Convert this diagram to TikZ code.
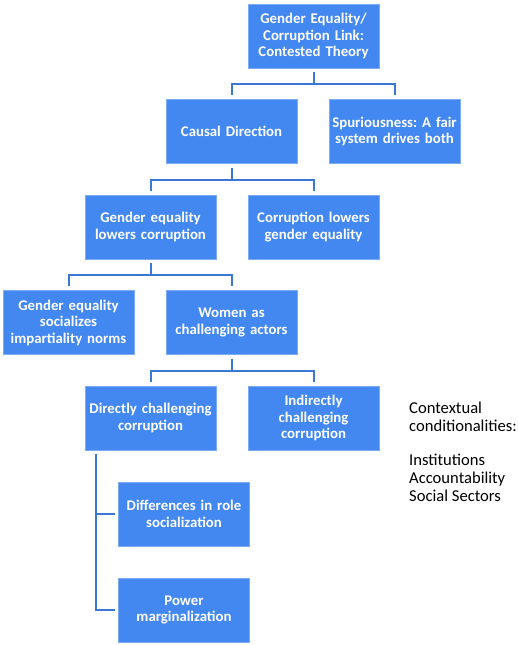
\documentclass[tikz,border=0pt]{standalone}
\usepackage{fontspec}
\setmainfont{Carlito}
\usetikzlibrary{positioning}
\definecolor{boxblue}{HTML}{4288F0}
\definecolor{lineblue}{HTML}{3A78D6}
\frenchspacing
\tikzset{
	box/.style={rectangle,fill=boxblue,draw=boxblue!70!white,line width=0.6pt,text=white,align=center,
		minimum width=131pt,minimum height=64pt,text width=127pt,inner sep=2pt,
		font=\fontsize{14.8}{16.5}\selectfont\bfseries},
	link/.style={draw=lineblue,line width=2pt},
	note/.style={align=left,anchor=north west,inner sep=0pt,font=\fontsize{16.6}{18.2}\selectfont}
}

\begin{document}
\begin{tikzpicture}[x=1pt,y=-1pt]
	\useasboundingbox (0,0) rectangle (518,645);
	
	\node[box] (root) at (313.5,36) {Gender Equality/\\Corruption Link:\\Contested Theory};
	
	\node[box] (causal) at (231.5,131.5) {Causal Direction};
	\node[box] (spur) at (394.5,131.5) {Spuriousness: A fair\\system drives both};
	
	\node[box] (gelow) at (150.5,227) {Gender equality\\lowers corruption};
	\node[box] (corrlow) at (313.5,227) {Corruption lowers\\gender equality};
	
	\node[box] (norms) at (68.5,322.5) {Gender equality\\socializes\\impartiality norms};
	\node[box] (women) at (231.5,322.5) {Women as\\challenging actors};
	
	\node[box] (direct) at (150.5,418) {Directly challenging\\corruption};
	\node[box] (indirect) at (313.5,418) {Indirectly\\challenging\\corruption};
	
	\node[box] (roles) at (184,514) {Differences in role\\socialization};
	\node[box] (power) at (184,610) {Power\\marginalization};
	
	\node[note] (context) at (409,402) {Contextual\\conditionalities:\\[15pt]Institutions\\Accountability\\Social Sectors};
	
	% junctions
	\coordinate (jroot) at (313.5,84);
	\coordinate (jcausal) at (231.5,180);
	\coordinate (jgelow) at (150.5,275);
	\coordinate (jwomen) at (231.5,371);
	\coordinate (jdirect) at (96,454);
	
	\draw[link,shorten <=4pt,shorten >=4pt] (root) -- (jroot) -| (causal);
	\draw[link,shorten >=4pt] (jroot) -| (spur);
	\draw[link,shorten <=4pt,shorten >=4pt] (causal) -- (jcausal) -| (gelow);
	\draw[link,shorten >=4pt] (jcausal) -| (corrlow);
	\draw[link,shorten <=4pt,shorten >=4pt] (gelow) -- (jgelow) -| (norms);
	\draw[link,shorten >=4pt] (jgelow) -| (women);
	\draw[link,shorten <=4pt,shorten >=4pt] (women) -- (jwomen) -| (direct);
	\draw[link,shorten >=4pt] (jwomen) -| (indirect);
	\draw[link,shorten >=3pt] (jdirect) |- (roles);
	\draw[link,shorten >=3pt] (jdirect) |- (power);
\end{tikzpicture}
\end{document}
